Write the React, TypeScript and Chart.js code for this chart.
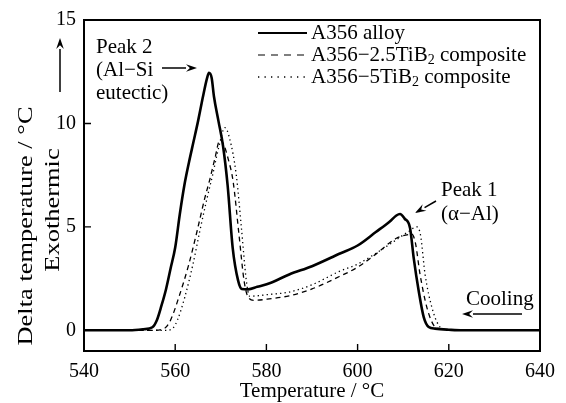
import React, { useEffect, useRef } from 'react';
import { Chart, registerables } from 'chart.js';

Chart.register(...registerables);

const FONT = '"Liberation Serif", "Times New Roman", serif';

// ---- data ----
const xTicks = [540, 560, 580, 600, 620, 640];
const yTicks = [0, 5, 10, 15];

const alloyT = [540, 550, 553, 555, 556, 557, 558, 559, 560, 561, 562, 563, 564, 565, 566, 567, 567.4, 568, 568.5, 569.5, 570.5, 571.5, 572.6, 573.8, 574.6, 576, 578, 581, 585, 590, 596, 600, 604, 607, 608.5, 609.3, 610.3, 611.5, 612.3, 613.4, 614.5, 615.6, 617, 620, 623, 640];
const alloyDT = [0, 0, 0.05, 0.15, 0.5, 1.2, 2.0, 3.0, 4.0, 5.6, 7.0, 8.1, 9.1, 10.1, 11.2, 12.2, 12.45, 12.2, 11.3, 10.1, 8.9, 7.0, 4.0, 2.4, 2.0, 1.98, 2.1, 2.3, 2.7, 3.1, 3.7, 4.1, 4.75, 5.25, 5.55, 5.62, 5.4, 4.95, 3.5, 1.9, 0.64, 0.16, 0.08, 0.03, 0, 0];

const tib25T = [540, 555, 557.7, 559, 560.8, 563, 564.8, 566.5, 567.6, 568.7, 569.8, 570.6, 571.6, 572.7, 574, 575.1, 576, 577.3, 580, 585, 590, 596, 600, 603.5, 608.6, 610.5, 611.9, 612.7, 613.7, 615.2, 616.7, 618, 621, 640];
const tib25DT = [0, 0, 0.1, 0.5, 1.6, 3.2, 4.8, 6.4, 7.3, 8.3, 9.2, 9.0, 8.3, 7.2, 4.6, 2.4, 1.6, 1.45, 1.5, 1.67, 2.0, 2.6, 3.05, 3.6, 4.46, 4.6, 4.65, 4.2, 2.7, 1.1, 0.24, 0.08, 0, 0];

const tib5T = [540, 558, 559.5, 560.5, 562.1, 563.9, 565.4, 567, 568.2, 569.5, 570.9, 571.9, 573.4, 574.5, 575.6, 576.3, 578, 580, 585, 590, 596, 600, 603.5, 608, 611, 613, 613.8, 614.8, 616.3, 617.8, 619, 622, 640];
const tib5DT = [0, 0, 0.1, 0.5, 1.6, 3.2, 4.8, 6.4, 7.5, 8.8, 9.8, 9.3, 7.5, 5.0, 2.4, 1.65, 1.67, 1.72, 1.85, 2.2, 2.85, 3.2, 3.65, 4.3, 4.75, 5.0, 4.6, 2.7, 1.1, 0.24, 0.06, 0, 0];

const seriesNames = ['A356 alloy', 'A356\u22122.5TiB', 'A356\u22125TiB'];

const toPts = (xs: number[], ys: number[]) => xs.map((x, i) => ({ x, y: ys[i] }));

function arrow(ctx: CanvasRenderingContext2D, x1: number, y1: number, x2: number, y2: number, head = 11, w = 3.8) {
  const ang = Math.atan2(y2 - y1, x2 - x1);
  const bx = x2 - head * Math.cos(ang);
  const by = y2 - head * Math.sin(ang);
  ctx.beginPath();
  ctx.moveTo(x1, y1);
  ctx.lineTo(bx, by);
  ctx.lineWidth = 1.5;
  ctx.stroke();
  ctx.beginPath();
  ctx.moveTo(x2, y2);
  ctx.lineTo(bx + w * Math.sin(ang), by - w * Math.cos(ang));
  ctx.lineTo(bx + 0.35 * head * Math.cos(ang), by + 0.35 * head * Math.sin(ang));
  ctx.lineTo(bx - w * Math.sin(ang), by + w * Math.cos(ang));
  ctx.closePath();
  ctx.fill();
}

const decor = {
  id: 'decor',
  afterDraw(chart: any) {
    const { ctx, chartArea: a, scales } = chart;
    const xs = scales.x;
    const ys = scales.y;
    ctx.save();
    ctx.strokeStyle = '#000';
    ctx.fillStyle = '#000';
    ctx.setLineDash([]);
    // frame
    ctx.lineWidth = 2;
    ctx.strokeRect(a.left, a.top, a.right - a.left, a.bottom - a.top);
    // inward ticks
    ctx.lineWidth = 1.4;
    ctx.beginPath();
    xTicks.forEach((v) => {
      const px = xs.getPixelForValue(v);
      ctx.moveTo(px, a.bottom);
      ctx.lineTo(px, a.bottom - 7);
    });
    yTicks.forEach((v) => {
      const py = ys.getPixelForValue(v);
      ctx.moveTo(a.left, py);
      ctx.lineTo(a.left + 7, py);
    });
    ctx.stroke();

    ctx.font = `21px ${FONT}`;
    // x title
    ctx.textAlign = 'center';
    ctx.textBaseline = 'alphabetic';
    ctx.fillText('Temperature / \u00B0C', (a.left + a.right) / 2, 397);

    // y titles (longer along their length, as in the reference)
    ctx.save();
    ctx.translate(32, 226);
    ctx.rotate(-Math.PI / 2);
    ctx.scale(1.26, 1);
    ctx.fillText('Delta temperature / \u00B0C', 0, 0);
    ctx.restore();
    ctx.save();
    ctx.translate(59, 210);
    ctx.rotate(-Math.PI / 2);
    ctx.scale(1.26, 1);
    ctx.fillText('Exothermic', 0, 0);
    ctx.restore();
    arrow(ctx, 60, 92, 60, 38);

    // annotations
    ctx.textAlign = 'left';
    ctx.fillText('Peak 2', 96, 53);
    ctx.fillText('(Al\u2212Si', 96, 76);
    ctx.fillText('eutectic)', 96, 99);
    arrow(ctx, 162, 68, 197, 68);

    ctx.fillText('Peak 1', 441, 196);
    ctx.fillText('(\u03B1\u2212Al)', 441, 220);
    arrow(ctx, 436, 201, 415, 213);

    ctx.fillText('Cooling', 466, 305);
    arrow(ctx, 522, 314, 462, 314);

    // legend
    const rows = [33, 55, 77];
    const lx1 = 258, lx2 = 307, tx = 311;
    ctx.textBaseline = 'middle';
    ctx.setLineDash([]);
    ctx.lineWidth = 2.2;
    ctx.beginPath(); ctx.moveTo(lx1, rows[0]); ctx.lineTo(lx2, rows[0]); ctx.stroke();
    ctx.fillText(seriesNames[0], tx, rows[0]);
    ctx.setLineDash([7, 6]);
    ctx.lineWidth = 1.2;
    ctx.beginPath(); ctx.moveTo(lx1, rows[1]); ctx.lineTo(lx2, rows[1]); ctx.stroke();
    ctx.setLineDash([1.3, 5.2]);
    ctx.lineWidth = 1.3;
    ctx.beginPath(); ctx.moveTo(lx1, rows[2]); ctx.lineTo(lx2, rows[2]); ctx.stroke();
    ctx.setLineDash([]);
    [1, 2].forEach((i) => {
      const y = rows[i];
      ctx.font = `21px ${FONT}`;
      ctx.fillText(seriesNames[i], tx, y);
      let w = ctx.measureText(seriesNames[i]).width;
      ctx.font = `14px ${FONT}`;
      ctx.fillText('2', tx + w, y + 5);
      w += ctx.measureText('2').width;
      ctx.font = `21px ${FONT}`;
      ctx.fillText(' composite', tx + w, y);
    });
    ctx.restore();
  },
};

export default function App() {
  const ref = useRef<HTMLCanvasElement | null>(null);
  useEffect(() => {
    document.body.style.margin = '0';
    const canvas = ref.current;
    if (!canvas) return;
    const chart = new Chart(canvas, {
      type: 'line',
      data: {
        datasets: [
          {
            label: 'A356 alloy',
            data: toPts(alloyT, alloyDT),
            borderColor: '#000',
            borderWidth: 2.6,
            pointRadius: 0,
            cubicInterpolationMode: 'monotone',
            fill: false,
          },
          {
            label: 'A356\u22122.5TiB\u2082 composite',
            data: toPts(tib25T, tib25DT),
            borderColor: '#000',
            borderWidth: 1.3,
            borderDash: [5, 4],
            pointRadius: 0,
            cubicInterpolationMode: 'monotone',
            fill: false,
          },
          {
            label: 'A356\u22125TiB\u2082 composite',
            data: toPts(tib5T, tib5DT),
            borderColor: '#000',
            borderWidth: 1.3,
            borderDash: [1.3, 3.2],
            pointRadius: 0,
            cubicInterpolationMode: 'monotone',
            fill: false,
          },
        ],
      },
      options: {
        animation: false,
        responsive: false,
        events: [],
        layout: { padding: { top: 16, right: 26, left: 0, bottom: 0 } },
        plugins: { legend: { display: false }, tooltip: { enabled: false } },
        scales: {
          x: {
            type: 'linear',
            min: 540,
            max: 640,
            grid: { display: false, drawTicks: false },
            border: { display: false },
            ticks: { color: '#000', font: { family: FONT, size: 20 }, padding: 9, maxRotation: 0 },
            afterBuildTicks: (s: any) => { s.ticks = xTicks.map((v) => ({ value: v })); },
            afterFit: (s: any) => { s.height = 52; },
          },
          y: {
            type: 'linear',
            min: -1,
            max: 15,
            grid: { display: false, drawTicks: false },
            border: { display: false },
            ticks: { color: '#000', font: { family: FONT, size: 20 }, padding: 8 },
            afterBuildTicks: (s: any) => { s.ticks = yTicks.map((v) => ({ value: v })); },
            afterFit: (s: any) => { s.width = 84; },
          },
        },
      },
      plugins: [decor],
    } as any);
    return () => chart.destroy();
  }, []);
  return (
    <div style={{ width: 566, height: 403, background: '#fff' }}>
      <canvas ref={ref} width={566} height={403} style={{ display: 'block' }} />
    </div>
  );
}
